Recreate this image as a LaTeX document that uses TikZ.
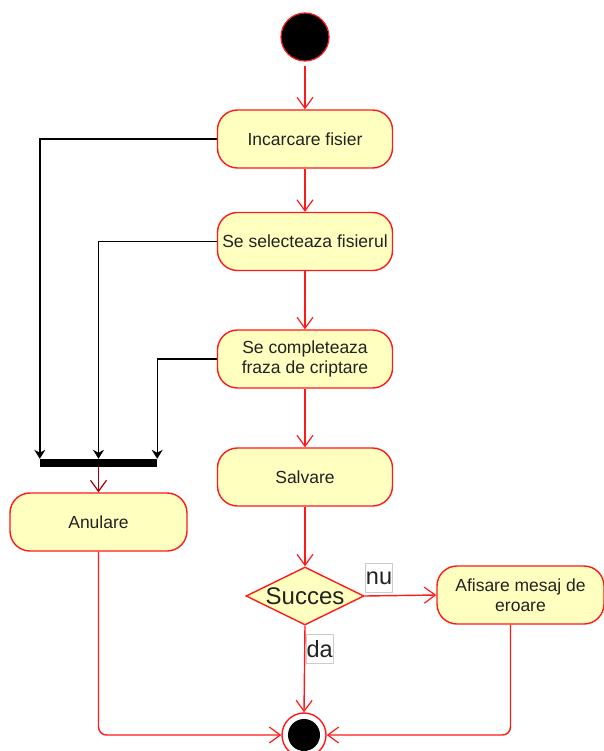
\documentclass[tikz,border=0pt]{standalone}
\usepackage{fontspec}
\setmainfont{Liberation Sans}
\usetikzlibrary{arrows.meta,shapes.geometric}
\definecolor{boxfill}{HTML}{FFFFC0}
\definecolor{boxred}{HTML}{FF1A1A}
\definecolor{txt}{HTML}{222222}
\definecolor{darkred}{HTML}{A00000}
\begin{document}
\begin{tikzpicture}[x=1pt,y=-1pt,
  act/.style={draw=boxred, fill=boxfill, line width=1.4pt, rounded corners=20pt,
    minimum width=175pt, minimum height=58pt, font=\fontsize{17.5}{20.5}\selectfont,
    text=txt, align=center, inner sep=0pt},
  flow/.style={draw=boxred, line width=1.4pt, -{Straight Barb[length=11pt,width=16pt,line width=1.2pt]}},
  blk/.style={draw=black, line width=1.4pt, -{Stealth[length=9pt,width=11pt]}},
  lbl/.style={fill=white, draw=gray!40, line width=0.6pt, inner sep=0pt,
    minimum width=27pt, minimum height=29pt, font=\fontsize{23.5}{26}\selectfont, text=txt}
]
\useasboundingbox (0,0) rectangle (604,751);
\fill[white] (0,0) rectangle (604,751);
\node[circle, fill=black, draw=boxred, line width=1.2pt, minimum size=48pt, inner sep=0pt] (start) at (305,37) {};
\node[act] (load) at (305,139) {Incarcare fisier};
\node[act] (sel) at (305,241.5) {Se selecteaza fisierul};
\node[act] (comp) at (305,359) {Se completeaza\\fraza de criptare};
\node[act] (save) at (305,477) {Salvare};
\node[diamond, draw=boxred, fill=boxfill, line width=1.4pt, minimum width=118pt, minimum height=58pt, inner sep=0pt,
  label={[font=\fontsize{24}{26}\selectfont, text=txt]center:Succes}] (dec) at (305,596) {};
\node[act, minimum width=167pt] (err) at (520.5,595) {Afisare mesaj de\\eroare};
\node[act, minimum width=177pt] (cancel) at (98.5,522) {Anulare};
\node[fill=black, minimum width=117pt, minimum height=8pt, inner sep=0pt] (bar) at (98.5,463) {};
\node[circle, draw=boxred, fill=white, line width=1.4pt, minimum size=44pt, inner sep=0pt] (end) at (304,735) {};
\node[circle, fill=black, minimum size=32pt, inner sep=0pt] (endin) at (end.center) {};

\draw[flow, shorten <=4pt] (start) -- (load);
\draw[flow] (load) -- (sel);
\draw[flow] (sel) -- (comp);
\draw[flow] (comp) -- (save);
\draw[flow] (save) -- (dec);
\draw[flow] (dec.east) -- node[lbl, pos=0.2, yshift=18pt] (nu) {nu} (err.west);
\draw[flow] (dec.south) -- node[lbl, pos=0.27, xshift=15pt] (da) {da} (end.north);
\draw[flow, draw=darkred] (bar.south) -- (cancel.north);

\draw[blk] (load.west) -| (bar.north west);
\draw[blk] (sel.west) -| (bar.north);
\draw[blk] (comp.west) -| (bar.north east);

\draw[flow, rounded corners=8pt] (cancel.south) |- (end.west);
\draw[flow, rounded corners=8pt] ([xshift=-10pt]err.south) |- (end.east);
\end{tikzpicture}
\end{document}
